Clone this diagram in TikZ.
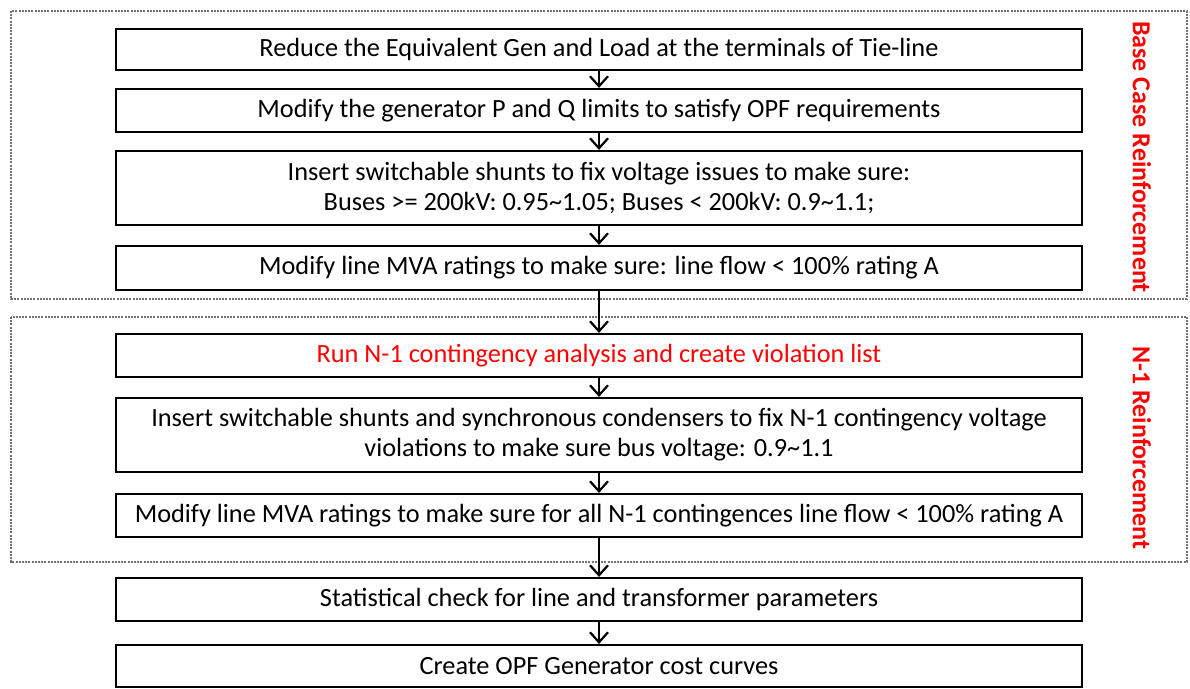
\documentclass[tikz,border=0pt]{standalone}
\usepackage{fontspec}
\setmainfont{Carlito}
\usetikzlibrary{arrows.meta}
\begin{document}
\begin{tikzpicture}[x=1pt,y=-1pt,
  stepbox/.style={draw=black,line width=2.2pt,minimum width=966pt,inner sep=0pt,align=center,font=\fontsize{26.3}{30}\selectfont},
  grp/.style={draw=black!55,line width=1.3pt,dash pattern=on 2pt off 1.2pt},
  sidelbl/.style={text=red,font=\fontsize{26}{30}\selectfont\bfseries,rotate=-90},
  flow/.style={line width=2pt,-{Straight Barb[length=10pt,width=18pt,line width=2.2pt]}}]
\useasboundingbox (0,0) rectangle (1190,688);
\draw[grp] (11,11) rectangle (1187,299);
\draw[grp] (11,317) rectangle (1187,562);
\node[stepbox,minimum height=41pt] (b1) at (599,49.5) {Reduce the Equivalent Gen and Load at the terminals of Tie-line};
\node[stepbox,minimum height=43pt] (b2) at (599,110.5) {Modify the generator P and Q limits to satisfy OPF requirements};
\node[stepbox,minimum height=74pt] (b3) at (599,188) {Insert switchable shunts to fix voltage issues to make sure:\\Buses >= 200kV: 0.95\textasciitilde1.05; Buses < 200kV: 0.9\textasciitilde1.1;};
\node[stepbox,minimum height=44pt] (b4) at (599,268) {Modify line MVA ratings to make sure: line flow < 100\% rating A};
\node[stepbox,minimum height=43pt,text=red] (b5) at (599,355.5) {Run N-1 contingency analysis and create violation list};
\node[stepbox,minimum height=74pt] (b6) at (599,435) {Insert switchable shunts and synchronous condensers to fix N-1 contingency voltage\\violations to make sure bus voltage: 0.9\textasciitilde1.1};
\node[stepbox,minimum height=43pt] (b7) at (599,515.5) {Modify line MVA ratings to make sure for all N-1 contingences line flow < 100\% rating A};
\node[stepbox,minimum height=43pt] (b8) at (599,599.5) {Statistical check for line and transformer parameters};
\node[stepbox,minimum height=42pt] (b9) at (599,666) {Create OPF Generator cost curves};
\node[sidelbl] (l1) at (1142,157) {Base Case Reinforcement};
\node[sidelbl] (l2) at (1142,448) {N-1 Reinforcement};
\foreach \a/\b in {b1/b2,b2/b3,b3/b4,b4/b5,b5/b6,b6/b7,b7/b8,b8/b9}
  \draw[flow] (\a.south) -- (\b.north);
\end{tikzpicture}
\end{document}
